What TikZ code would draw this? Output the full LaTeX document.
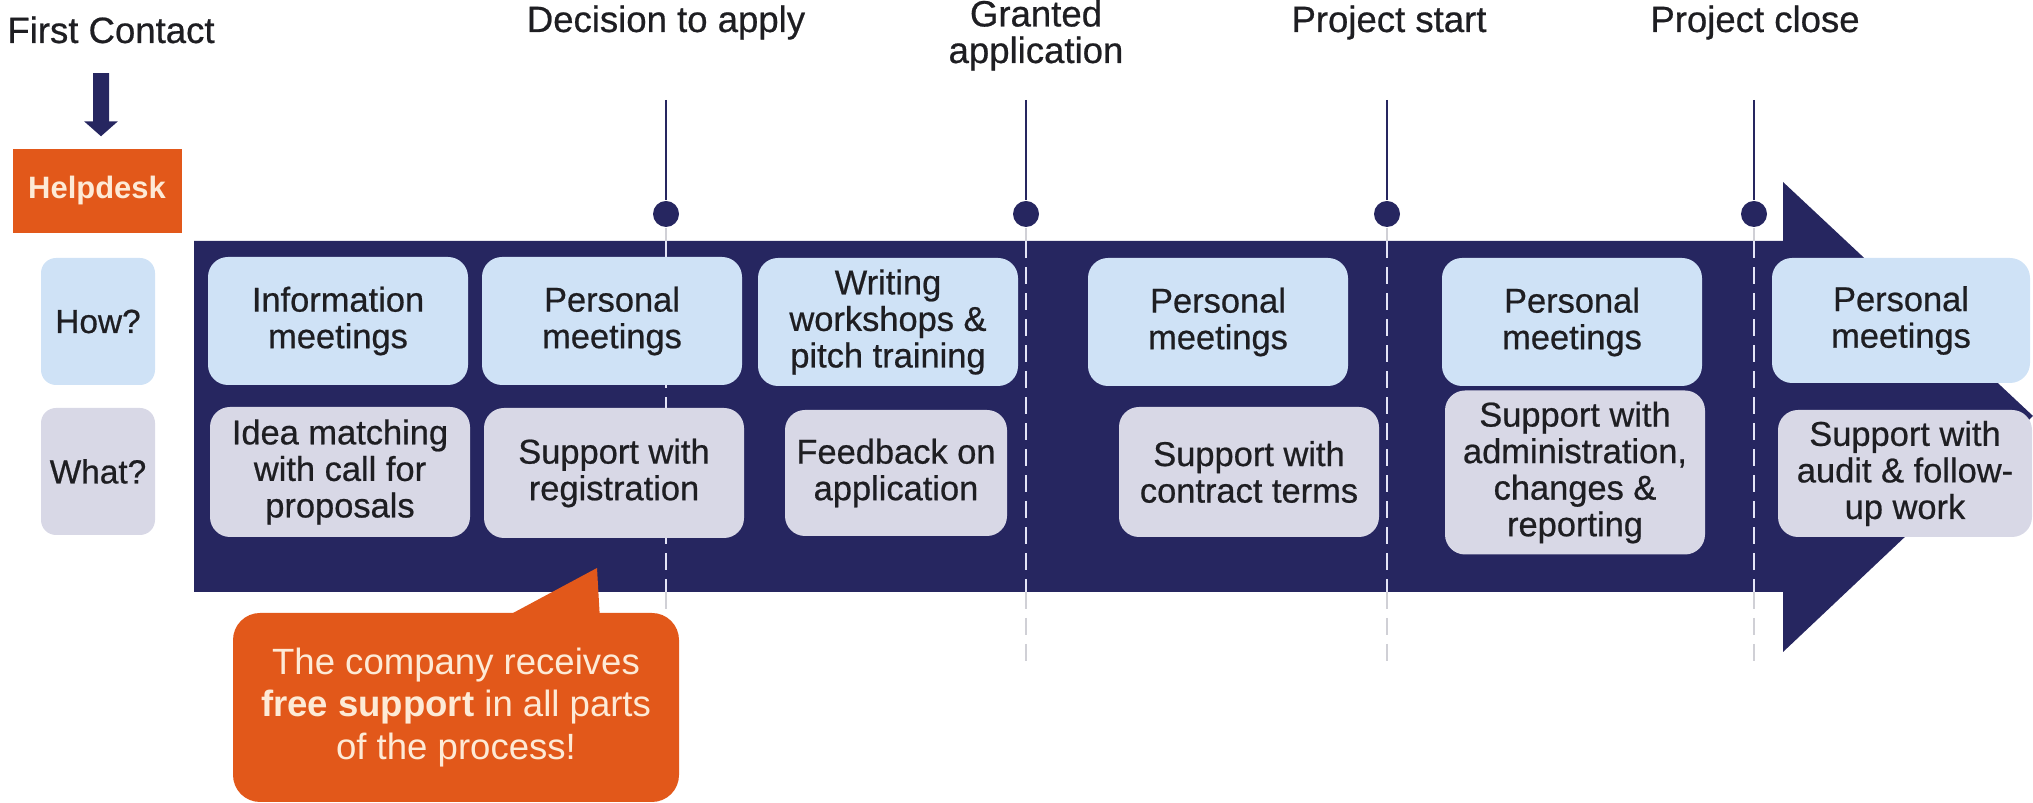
\documentclass[tikz,border=0pt]{standalone}
\usepackage{fontspec}
\setmainfont{Liberation Sans}
\newfontfamily\heavysans{Liberation Sans}[FakeBold=0.6]
\usetikzlibrary{arrows.meta, positioning}

\definecolor{navy}{RGB}{38,38,96}
\definecolor{howblue}{RGB}{207,226,246}
\definecolor{whatgrey}{RGB}{216,216,230}
\definecolor{helporange}{RGB}{226,88,26}
\definecolor{cream}{RGB}{253,234,214}
\definecolor{inkdark}{RGB}{30,30,34}
\definecolor{guidegrey}{RGB}{208,208,214}
\definecolor{guidelight}{RGB}{228,228,246}

\begin{document}
\begin{tikzpicture}[
    x=0.1mm, y=-0.1mm,
    % Step boxes
    howbox/.style={
        rectangle,
        rounded corners=2mm,
        fill=howblue,
        minimum width=26mm,
        minimum height=12.8mm,
        inner sep=0pt,
        align=center,
        text=inkdark,
        font=\heavysans\fontsize{9.8}{10.4}\selectfont
    },
    whatbox/.style={
        howbox,
        fill=whatgrey,
        minimum height=13mm
    },
    % Row labels on the left
    rowlabel/.style={
        rectangle,
        rounded corners=1.5mm,
        minimum width=11.4mm,
        minimum height=12.7mm,
        inner sep=0pt,
        text=inkdark,
        font=\heavysans\fontsize{9.5}{10}\selectfont
    },
    % Milestones
    milestone/.style={
        anchor=base,
        align=center,
        inner sep=0pt,
        text=inkdark,
        font=\heavysans\fontsize{10.4}{10.4}\selectfont
    },
    mdot/.style={circle, fill=navy, minimum size=2.6mm, inner sep=0pt},
    mline/.style={draw=navy, line width=0.8pt},
    guideout/.style={draw=guidegrey, line width=0.8pt, dash pattern=on 1.7mm off 0.9mm},
    guidein/.style={draw=guidelight, line width=0.8pt, dash pattern=on 1.7mm off 0.9mm},
    % Arrow style
    downarrow/.style={
        -{Triangle[length=1.5mm, width=3.3mm]},
        draw=navy,
        fill=navy,
        line width=1.6mm
    }
]
\useasboundingbox (0,0) rectangle (2033,803);

% === Timeline body ===
\coordinate (bodytop) at (194,241);
\coordinate (bodybot) at (194,592);
\fill[navy] (bodytop) -- (1783,241) -- (1783,182) -- (2033,416) -- (1783,652)
    -- (1783,592) -- (bodybot) -- cycle;

% === Milestones ===
\node[milestone] (first) at (111,43) {First Contact};
\node[milestone] (dec) at (666,32) {Decision to apply};
\node[milestone] (grant) at (1036,63) {Granted\\application};
\node[milestone] (start) at (1389,32) {Project start};
\node[milestone] (close) at (1755,32) {Project close};

\node[mdot] (decdot) at (666,214) {};
\node[mdot] (grantdot) at (1026,214) {};
\node[mdot] (startdot) at (1387,214) {};
\node[mdot] (closedot) at (1754,214) {};

\coordinate (dectop) at (666,100);
\coordinate (granttop) at (1026,100);
\coordinate (starttop) at (1387,100);
\coordinate (closetop) at (1754,100);
\coordinate (decend) at (666,664);
\coordinate (grantend) at (1026,664);
\coordinate (startend) at (1387,664);
\coordinate (closeend) at (1754,664);

\draw[mline] (dectop) -- (decdot);
\draw[mline] (granttop) -- (grantdot);
\draw[mline] (starttop) -- (startdot);
\draw[mline] (closetop) -- (closedot);

\draw[guideout] (decdot) -- (decdot |- bodytop);
\draw[guideout] (grantdot) -- (grantdot |- bodytop);
\draw[guideout] (startdot) -- (startdot |- bodytop);
\draw[guideout] (closedot) -- (closedot |- bodytop);
\draw[guidein] (decdot |- bodytop) -- (decdot |- bodybot);
\draw[guidein] (grantdot |- bodytop) -- (grantdot |- bodybot);
\draw[guidein] (startdot |- bodytop) -- (startdot |- bodybot);
\draw[guidein] (closedot |- bodytop) -- (closedot |- bodybot);
\draw[guideout] (decdot |- bodybot) -- (decend);
\draw[guideout] (grantdot |- bodybot) -- (grantend);
\draw[guideout] (startdot |- bodybot) -- (startend);
\draw[guideout] (closedot |- bodybot) -- (closeend);

% === Helpdesk and row labels ===
\node[rectangle, fill=helporange, minimum width=16.9mm, minimum height=8.4mm,
    text=cream, font=\bfseries\fontsize{8.8}{9}\selectfont] (help) at (97,191) {Helpdesk};
\draw[downarrow, shorten <=2.9mm, shorten >=1.2mm]
    ([xshift=-1mm]first.south) -- ([xshift=0.4mm]help.north);

\node[rowlabel, fill=howblue] (how) at (98,321.5) {How?};
\node[rowlabel, fill=whatgrey] (what) at (98,471.5) {What?};

% === How? row ===
\node[howbox] (info) at (338,321) {Information\\meetings};
\node[howbox] (pers1) at (612,321) {Personal\\meetings};
\node[howbox] (write) at (888,322) {Writing\\workshops \&\\pitch training};
\node[howbox] (pers2) at (1218,322) {Personal\\meetings};
\node[howbox] (pers3) at (1572,322) {Personal\\meetings};
\node[howbox, minimum width=25.8mm, minimum height=12.5mm] (pers4) at (1901,320.5) {Personal\\meetings};

% === What? row ===
\node[whatbox] (idea) at (340,472) {Idea matching\\with call for\\proposals};
\node[whatbox] (reg) at (614,473) {Support with\\registration};
\node[whatbox, minimum width=22.2mm, minimum height=12.6mm] (feed) at (896,473) {Feedback on\\application};
\node[whatbox] (contract) at (1249,472) {Support with\\contract terms};
\node[whatbox, minimum height=16.4mm] (admin) at (1575,472.5) {Support with\\administration,\\changes \&\\reporting};
\node[whatbox, minimum width=25.4mm, minimum height=12.7mm] (audit) at (1905,473.5) {Support with\\audit \& follow-\\up work};

% === Callout ===
\fill[helporange] (500,620) -- (597,568) -- (600,620) -- cycle;
\node[rectangle, rounded corners=2.7mm, fill=helporange, minimum width=44.6mm,
    minimum height=18.9mm, text=cream, align=center,
    font=\fontsize{10.4}{12.2}\selectfont] (note) at (456,707.5)
    {The company receives\\\textbf{free support} in all parts\\of the process!};

\end{tikzpicture}
\end{document}
